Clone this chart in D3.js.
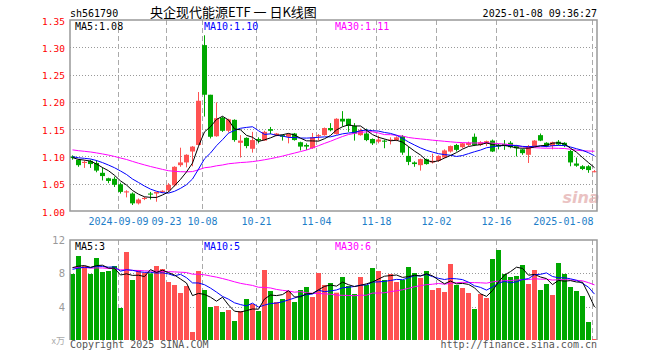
<!DOCTYPE html>
<html><head><meta charset="utf-8">
<script src="https://cdn.jsdelivr.net/npm/d3@7"></script>
<style>body{margin:0;background:#fff}svg{display:block}</style>
</head><body><svg id="c" width="660" height="360"></svg>
<script>
// ---------- data ----------
const dates = [
 "2024-08-28","2024-08-29","2024-08-30","2024-09-02","2024-09-03","2024-09-04","2024-09-05","2024-09-06",
 "2024-09-09","2024-09-10","2024-09-11","2024-09-12","2024-09-13","2024-09-18","2024-09-19","2024-09-20",
 "2024-09-23","2024-09-24","2024-09-25","2024-09-26","2024-09-27","2024-09-30","2024-10-08","2024-10-09",
 "2024-10-10","2024-10-11","2024-10-14","2024-10-15","2024-10-16","2024-10-17","2024-10-18","2024-10-21",
 "2024-10-22","2024-10-23","2024-10-24","2024-10-25","2024-10-28","2024-10-29","2024-10-30","2024-10-31",
 "2024-11-01","2024-11-04","2024-11-05","2024-11-06","2024-11-07","2024-11-08","2024-11-11","2024-11-12",
 "2024-11-13","2024-11-14","2024-11-15","2024-11-18","2024-11-19","2024-11-20","2024-11-21","2024-11-22",
 "2024-11-25","2024-11-26","2024-11-27","2024-11-28","2024-11-29","2024-12-02","2024-12-03","2024-12-04",
 "2024-12-05","2024-12-06","2024-12-09","2024-12-10","2024-12-11","2024-12-12","2024-12-13","2024-12-16",
 "2024-12-17","2024-12-18","2024-12-19","2024-12-20","2024-12-23","2024-12-24","2024-12-25","2024-12-26",
 "2024-12-27","2024-12-30","2024-12-31","2025-01-02","2025-01-03","2025-01-06","2025-01-07","2025-01-08"];

const open = [1.100,1.094,1.088,1.092,1.088,1.070,1.060,1.059,1.049,1.034,
 1.032,1.014,1.022,1.032,1.032,1.035,1.038,1.047,1.084,1.089,
 1.109,1.121,1.304,1.213,1.137,1.171,1.147,1.167,1.125,1.134,
 1.114,1.132,1.129,1.150,1.139,1.139,1.136,1.142,1.126,1.121,
 1.115,1.137,1.139,1.152,1.141,1.169,1.169,1.156,1.139,1.142,
 1.132,1.127,1.129,1.129,1.130,1.137,1.101,1.089,1.084,1.095,
 1.089,1.092,1.098,1.109,1.121,1.117,1.121,1.136,1.121,1.123,
 1.129,1.121,1.123,1.125,1.119,1.113,1.103,1.118,1.139,1.125,
 1.119,1.127,1.125,1.110,1.087,1.082,1.082,1.071];
const high = [1.102,1.095,1.093,1.094,1.093,1.080,1.061,1.063,1.052,1.038,
 1.034,1.023,1.026,1.035,1.035,1.038,1.051,1.082,1.116,1.104,
 1.119,1.218,1.322,1.213,1.199,1.173,1.169,1.168,1.139,1.135,
 1.145,1.135,1.147,1.154,1.143,1.140,1.142,1.143,1.127,1.124,
 1.143,1.141,1.153,1.161,1.170,1.183,1.169,1.161,1.151,1.151,
 1.133,1.138,1.131,1.135,1.137,1.139,1.118,1.091,1.096,1.096,
 1.105,1.102,1.113,1.120,1.123,1.125,1.127,1.142,1.128,1.129,
 1.131,1.123,1.130,1.128,1.121,1.114,1.121,1.130,1.142,1.126,
 1.127,1.130,1.126,1.112,1.098,1.084,1.084,1.075];
const low = [1.094,1.081,1.079,1.079,1.071,1.056,1.051,1.044,1.032,1.025,
 1.011,1.012,1.020,1.021,1.017,1.033,1.035,1.045,1.081,1.080,
 1.082,1.121,1.173,1.133,1.136,1.145,1.144,1.127,1.098,1.115,
 1.107,1.124,1.129,1.141,1.137,1.129,1.124,1.129,1.111,1.112,
 1.114,1.129,1.138,1.146,1.140,1.155,1.145,1.129,1.138,1.128,
 1.121,1.124,1.115,1.122,1.128,1.103,1.084,1.081,1.074,1.085,
 1.087,1.090,1.097,1.107,1.109,1.115,1.119,1.119,1.119,1.119,
 1.108,1.113,1.112,1.115,1.100,1.103,1.088,1.117,1.128,1.117,
 1.113,1.120,1.117,1.082,1.081,1.075,1.070,1.071];
const close = [1.097,1.084,1.090,1.086,1.074,1.064,1.055,1.048,1.035,1.036,
 1.014,1.021,1.024,1.030,1.035,1.037,1.048,1.081,1.089,1.103,
 1.118,1.202,1.213,1.136,1.170,1.147,1.168,1.130,1.129,1.119,
 1.130,1.129,1.145,1.147,1.142,1.136,1.141,1.130,1.118,1.118,
 1.135,1.139,1.152,1.148,1.169,1.164,1.156,1.142,1.148,1.130,
 1.124,1.131,1.127,1.131,1.135,1.107,1.090,1.086,1.095,1.086,
 1.092,1.101,1.111,1.119,1.112,1.124,1.125,1.121,1.126,1.128,
 1.109,1.118,1.119,1.117,1.115,1.106,1.119,1.129,1.129,1.119,
 1.126,1.122,1.119,1.089,1.083,1.077,1.075,1.073];
// volume (万)
const volume = [7.92,10.08,8.88,7.92,9.84,8.16,8.28,8.88,3.84,10.56,
 7.2,8.4,8.08,8.0,8.88,8.52,6.96,6.6,5.64,6.48,
 0.96,8.28,6.0,3.96,4.08,3.36,3.6,2.28,3.48,4.92,
 4.32,3.48,8.4,5.88,4.56,4.92,5.88,4.56,6.0,6.36,
 5.16,8.04,6.6,6.84,5.68,7.56,6.48,5.52,7.56,6.6,
 8.64,8.28,7.2,7.92,6.96,7.2,8.76,8.04,7.44,8.28,
 6.0,6.24,5.76,9.12,6.6,6.24,5.64,3.72,5.52,5.04,
 9.72,10.8,7.92,7.56,7.68,9.0,6.72,8.4,6.0,6.72,
 5.4,9.24,7.92,6.36,5.88,5.28,2.16,0.12];
// 29 sessions before the window (estimated from where the MA lines start)
const priorClose = [1.128,1.125,1.122,1.126,1.121,1.118,1.123,1.120,1.117,1.119,
 1.122,1.116,1.118,1.114,1.117,1.120,1.115,1.110,1.109,1.105,
 1.104,1.100,1.098,1.102,1.102,1.100,1.097,1.095,1.100];
const priorVolume = [9.6,8.8,10.2,9.0,8.4,9.9,9.3,8.7,10.5,9.1,
 8.6,9.4,8.9,9.8,8.5,8.2,7.4,6.8,7.6,6.9,
 8.6,7.9,8.4,8.1,8.4,9.2,8.5,9.0,8.8];

const priceTicks = [1.00,1.05,1.10,1.15,1.20,1.25,1.30,1.35];
const volumeTicks = [4,8,12];
const dateTicks = ["2024-09-09","2024-09-23","2024-10-08","2024-10-21","2024-11-04","2024-11-18","2024-12-02","2024-12-16","2025-01-08"];
const dateTickLabels = ["2024-09-09","09-23","10-08","10-21","11-04","11-18","12-02","12-16","2025-01-08"];
const maPeriods = [5,10,30];
const maColors = ["#000000","#0000ff","#ff00ff"];

// ---------- drawing ----------
const svg = d3.select("#c");
const RED = "#ff5252", GREEN = "#00a800";
const L = 70, R = 597, PT = 20, PB = 211, VT = 240, VB = 340;
const n = close.length;
const x = d3.scaleLinear().domain([0, n - 1]).range([L + 2.5, L + 2.5 + 6 * (n - 1)]);
const yP = d3.scaleLinear().domain([1.00, 1.35]).range([PB, PT]);
const yV = d3.scaleLinear().domain([0, 12]).range([VB, VT]);
const mono = "'DejaVu Sans Mono', monospace";

function ma(series, prior, p) {
  const full = prior.concat(series), off = prior.length;
  return series.map((_, i) => d3.mean(full.slice(off + i - p + 1, off + i + 1)));
}

// grids
const g = svg.append("g");
g.selectAll(".hp").data(priceTicks.slice(1, -1)).join("line")
  .attr("x1", L).attr("x2", R).attr("y1", d => Math.round(yP(d)) + 0.5).attr("y2", d => Math.round(yP(d)) + 0.5)
  .attr("stroke", "#999").attr("stroke-dasharray", "1,2");
g.selectAll(".hv").data(volumeTicks.slice(0, -1)).join("line")
  .attr("x1", L).attr("x2", R).attr("y1", d => Math.round(yV(d)) + 0.5).attr("y2", d => Math.round(yV(d)) + 0.5)
  .attr("stroke", "#999").attr("stroke-dasharray", "1,2");
const tickIdx = dateTicks.map(d => dates.indexOf(d));
[[PT, PB], [VT, VB]].forEach(([a, b]) => {
  g.selectAll(null).data(tickIdx).join("line")
    .attr("x1", i => x(i) - 2).attr("x2", i => x(i) - 2).attr("y1", a).attr("y2", b)
    .attr("stroke", "#aaa").attr("stroke-dasharray", "5,3");
});

// watermark
svg.append("text").attr("x", 581).attr("y", 203).attr("text-anchor", "middle")
  .attr("font-family", "'DejaVu Sans', sans-serif").attr("font-style", "italic").attr("font-weight", "bold")
  .attr("font-size", 16).attr("fill", "#e6b4b4").attr("opacity", 0.8).text("sina");

// candles
const cg = svg.append("g");
d3.range(n).forEach(i => {
  const up = close[i] >= open[i], col = up ? RED : GREEN;
  const cx = x(i);
  cg.append("rect").attr("x", cx - 0.5).attr("width", 1)
    .attr("y", yP(high[i])).attr("height", Math.max(1, yP(low[i]) - yP(high[i]))).attr("fill", col);
  const top = yP(Math.max(open[i], close[i])), bot = yP(Math.min(open[i], close[i]));
  cg.append("rect").attr("x", cx - 2.5).attr("width", 5)
    .attr("y", top).attr("height", Math.max(1, bot - top)).attr("fill", col);
  // volume
  cg.append("rect").attr("x", cx - 2.5).attr("width", 5)
    .attr("y", yV(volume[i])).attr("height", VB - yV(volume[i])).attr("fill", col);
});

// MA lines
const lg = svg.append("g").attr("fill", "none").attr("stroke-width", 1);
const priceMA = maPeriods.map(p => ma(close, priorClose, p));
const volMA = maPeriods.map(p => ma(volume, priorVolume, p));
[2, 1, 0].forEach(k => {
  lg.append("path").attr("stroke", maColors[k])
    .attr("d", d3.line().x((d, i) => x(i)).y(d => yP(d))(priceMA[k]));
  lg.append("path").attr("stroke", maColors[k])
    .attr("d", d3.line().x((d, i) => x(i)).y(d => yV(d))(volMA[k]));
});

// frames
svg.append("path").attr("fill", "none").attr("stroke", "#999").attr("stroke-width", 1.5)
  .attr("d", `M${L},${PT}H${R}V${PB}H${L}Z M${L},${VB}V${VT}H${R}V${VB}`);

// axis labels
const tg = svg.append("g").attr("font-family", mono);
tg.selectAll(".pl").data(priceTicks).join("text")
  .attr("x", 65).attr("y", d => yP(d) + 4.5).attr("text-anchor", "end")
  .attr("font-size", 9.5).attr("fill", "#f00").text(d => d.toFixed(2));
tg.selectAll(".vl").data(volumeTicks).join("text")
  .attr("x", 65).attr("y", d => yV(d) + 4).attr("text-anchor", "end")
  .attr("font-family", "'DejaVu Sans', sans-serif")
  .attr("font-size", 10).attr("fill", "#999").text(d => d);
tg.append("text").attr("x", 65).attr("y", 344).attr("text-anchor", "end")
  .attr("font-family", "'Noto Sans CJK SC', sans-serif").attr("font-size", 9).attr("fill", "#aaa").text("x万");
tg.selectAll(".dl").data(tickIdx).join("text")
  .attr("x", (d, j) => j === tickIdx.length - 1 ? x(d) - 1 : x(d) - 2)
  .attr("y", 225).attr("text-anchor", (d, j) => j === tickIdx.length - 1 ? "end" : "middle")
  .attr("font-size", 10).attr("fill", "#1e7ec8").text((d, j) => dateTickLabels[j]);

// header
tg.append("text").attr("x", 70).attr("y", 17).attr("font-size", 10).attr("fill", "#000").text("sh561790");
svg.append("text").attr("x", 150).attr("y", 17).attr("font-family", "'Noto Sans CJK SC', sans-serif")
  .attr("font-size", 13).attr("fill", "#000").text("央企现代能源ETF 一 日K线图");
tg.append("text").attr("x", 597).attr("y", 17).attr("text-anchor", "end").attr("font-size", 10)
  .attr("fill", "#000").text("2025-01-08 09:36:27");

// legends
const legX = [75, 204, 335];
maPeriods.forEach((p, k) => {
  tg.append("text").attr("x", legX[k]).attr("y", 29.5).attr("font-size", 10).attr("fill", maColors[k])
    .text(`MA${p}:${priceMA[k][n - 1].toFixed(2)}`);
  tg.append("text").attr("x", legX[k]).attr("y", 250).attr("font-size", 10).attr("fill", maColors[k])
    .text(`MA${p}:${Math.floor(volMA[k][n - 1])}`);
});

// footer
tg.append("text").attr("x", 70).attr("y", 348).attr("font-size", 10).attr("fill", "#555").text("Copyright 2025 SINA.COM");
tg.append("text").attr("x", 597).attr("y", 348).attr("text-anchor", "end").attr("font-size", 10)
  .attr("fill", "#555").text("http://finance.sina.com.cn");
</script></body></html>
